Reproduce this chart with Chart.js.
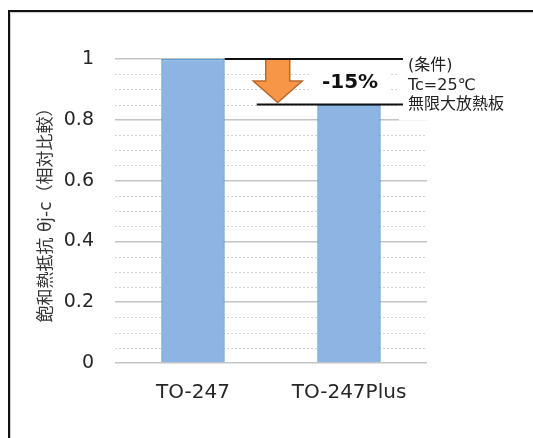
<!DOCTYPE html>
<html>
<head>
<meta charset="utf-8">
<script src="https://cdn.jsdelivr.net/npm/chart.js@4.4.1/dist/chart.umd.min.js"></script>
<style>
  html, body { margin: 0; padding: 0; background: #fff; overflow: hidden; }
  canvas { display: block; }
</style>
</head>
<body>
<canvas id="c" width="533" height="438"></canvas>
<script>
// Package names and saturated thermal resistance (relative to TO-247)
const categories = ['TO-247', 'TO-247Plus'];
const thermalResistance = [1, 0.85];
const reductionLabel = '-15%';
const conditionLines = ['(条件)', 'Tc=25℃', '無限大放熱板'];
const yAxisTitle = '飽和熱抵抗 θj-c（相対比較）';
const yMin = 0, yMax = 1, yMajorStep = 0.2, yMinorStep = 0.05;

const FONT = "'DejaVu Sans', 'Noto Sans CJK JP', sans-serif";

// White page with the frame's top and left edges
const frame = {
  id: 'frame',
  beforeDraw(chart) {
    const ctx = chart.ctx;
    const w = chart.width, h = chart.height;
    ctx.save();
    ctx.fillStyle = '#fff';
    ctx.fillRect(0, 0, w, h);
    ctx.strokeStyle = '#cfcfcf';
    ctx.lineWidth = 1;
    ctx.beginPath();
    ctx.moveTo(10.5, h);
    ctx.lineTo(10.5, 12.5);
    ctx.lineTo(w, 12.5);
    ctx.stroke();
    ctx.strokeStyle = '#111';
    ctx.lineWidth = 2;
    ctx.beginPath();
    ctx.moveTo(9, h);
    ctx.lineTo(9, 11);
    ctx.lineTo(w, 11);
    ctx.stroke();
    ctx.restore();
  }
};

// Dotted minor gridlines between the solid major ones
const minorGrid = {
  id: 'minorGrid',
  beforeDatasetsDraw(chart) {
    const { ctx, chartArea: a, scales: { y } } = chart;
    const perMajor = Math.round(yMajorStep / yMinorStep);
    const n = Math.round((yMax - yMin) / yMinorStep);
    ctx.save();
    ctx.strokeStyle = '#d2d2d2';
    ctx.lineWidth = 1;
    ctx.setLineDash([2, 2]);
    for (let i = 1; i < n; i++) {
      if (i % perMajor === 0) continue;
      const py = Math.round(y.getPixelForValue(yMin + i * yMinorStep)) + 0.5;
      ctx.beginPath();
      ctx.moveTo(a.left, py);
      ctx.lineTo(a.right, py);
      ctx.stroke();
    }
    ctx.restore();
  }
};

// Reduction arrow, reference lines and the conditions note
const reduction = {
  id: 'reduction',
  afterDatasetsDraw(chart) {
    const { ctx, chartArea: a, scales: { y } } = chart;
    const bars = chart.getDatasetMeta(0).data;
    const b0 = bars[0], b1 = bars[1];
    const yTop = y.getPixelForValue(thermalResistance[0]);
    const yLow = y.getPixelForValue(thermalResistance[1]);
    const b0Right = b0.x + b0.width / 2;
    const lineEnd = a.right - 24;

    ctx.save();
    // label backgrounds
    ctx.fillStyle = '#fff';
    ctx.fillRect(b1.x - 38, yTop + 3, 78, yLow - yTop - 6);
    ctx.fillRect(lineEnd - 4, yTop - 6, chart.width, yLow - yTop + 22);

    // down arrow
    const ax = b0Right + 53;
    const headY = yTop + 22;
    ctx.beginPath();
    ctx.moveTo(ax - 12, yTop);
    ctx.lineTo(ax + 12, yTop);
    ctx.lineTo(ax + 12, headY);
    ctx.lineTo(ax + 24.5, headY);
    ctx.lineTo(ax, yLow - 2);
    ctx.lineTo(ax - 24.5, headY);
    ctx.lineTo(ax - 12, headY);
    ctx.closePath();
    ctx.fillStyle = '#F79646';
    ctx.fill();
    ctx.strokeStyle = '#B9692A';
    ctx.lineWidth = 1.5;
    ctx.stroke();

    // reference lines
    ctx.strokeStyle = '#111';
    ctx.lineWidth = 2;
    ctx.beginPath();
    ctx.moveTo(b0Right, yTop);
    ctx.lineTo(lineEnd, yTop);
    ctx.moveTo(ax - 21, yLow);
    ctx.lineTo(lineEnd, yLow);
    ctx.stroke();

    // -15%
    ctx.fillStyle = '#111';
    ctx.font = 'bold 20px ' + FONT;
    ctx.textAlign = 'center';
    ctx.textBaseline = 'middle';
    ctx.fillText(reductionLabel, b1.x + 1, (yTop + yLow) / 2 + 1);

    // conditions
    ctx.fillStyle = '#222';
    ctx.font = '16px ' + FONT;
    ctx.textAlign = 'left';
    conditionLines.forEach((t, i) => {
      ctx.fillText(t, lineEnd + 5, yTop + 7 + i * 19.5);
    });
    ctx.restore();
  }
};

new Chart(document.getElementById('c'), {
  type: 'bar',
  data: {
    labels: categories,
    datasets: [{
      data: thermalResistance,
      backgroundColor: '#8EB4E3',
      borderColor: '#5B9BD5',
      borderWidth: 1.5,
      barPercentage: 0.407,
      categoryPercentage: 1
    }]
  },
  options: {
    responsive: false,
    animation: false,
    layout: { padding: { left: 0, top: 59, right: 106, bottom: 0 } },
    plugins: { legend: { display: false }, tooltip: { enabled: false } },
    scales: {
      x: {
        grid: { display: false, drawTicks: false },
        border: { display: false },
        ticks: { color: '#262626', font: { family: FONT, size: 20 }, padding: 18 },
        afterFit(s) { s.height = 75; }
      },
      y: {
        min: yMin,
        max: yMax,
        ticks: {
          stepSize: yMajorStep,
          color: '#262626',
          font: { family: FONT, size: 19 },
          padding: 21,
          callback: v => String(Math.round(v * 10) / 10)
        },
        grid: { color: '#c4c4c4', lineWidth: 1.5, drawTicks: false },
        border: { display: false },
        title: {
          display: true,
          text: yAxisTitle,
          color: '#333',
          font: { family: FONT, size: 17 },
          padding: { top: 36, bottom: 0 }
        },
        afterFit(s) { s.width = 115; }
      }
    }
  },
  plugins: [frame, minorGrid, reduction]
});
</script>
</body>
</html>
